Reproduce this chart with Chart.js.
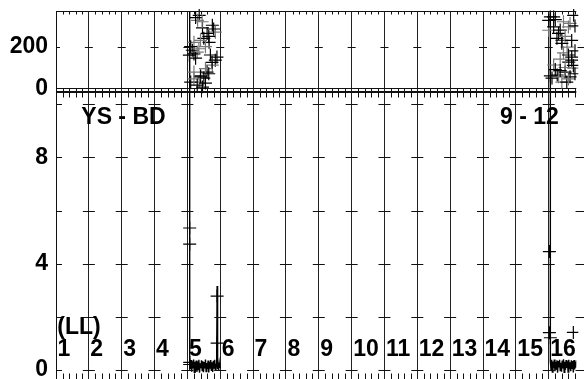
<!DOCTYPE html>
<html>
<head>
<meta charset="utf-8">
<script src="https://cdn.jsdelivr.net/npm/chart.js@4"></script>
<style>
  html, body { margin: 0; padding: 0; background: #fff; overflow: hidden; }
  #wrap { position: relative; width: 584px; height: 379px; overflow: hidden; }
  canvas { position: absolute; left: 0; top: 0; }
</style>
</head>
<body>
<div id="wrap">
  <canvas id="bottomChart" width="584" height="400"></canvas>
  <canvas id="topChart" width="584" height="400"></canvas>
</div>
<script>
// ---- data ----
const gridX = [1, 2, 3, 4, 5, 6, 7, 8, 9, 10, 11, 12, 13, 14, 15, 16];
const hourLabels = ['1', '2', '3', '4', '5', '6', '7', '8', '9', '10', '11', '12', '13', '14', '15', '16'];
const notes = ['YS - BD', '9 - 12', '(LL)'];

const topTicks = [0, 100, 200, 300];
const topTickLabels = ['0', '', '200', ''];
const bottomTicks = [0, 2, 4, 6, 8, 10];
const bottomTickLabels = ['0', '', '4', '', '8', ''];

// scatter bursts in the upper panel
const burstAX = [5.36, 5.31, 5.76, 5.60, 5.85, 5.50, 5.66, 5.20, 5.15, 5.06, 5.30, 5.25, 5.85, 5.76, 5.60, 5.50, 5.36, 5.10, 5.46, 5.20, 5.70, 5.46, 5.55, 5.40,
                 5.25, 5.45, 5.80, 5.65, 5.40, 5.10, 5.20, 5.35, 5.90, 5.75, 5.55, 5.65, 5.40, 5.20, 5.30, 5.55];
const burstAY = [351, 327, 303, 264, 270, 240, 221, 221, 183, 159, 174, 145, 135, 111, 78, 49, 30, 30, 6, 78, 160, 290, 200, 60,
                 340, 320, 285, 250, 230, 200, 165, 190, 150, 125, 95, 70, 55, 45, 15, 25];
const burstBX = [16.05, 16.00, 16.15, 16.30, 16.65, 16.76, 16.40, 16.56, 16.70, 16.61, 16.76, 16.26, 16.10, 16.40, 16.65, 16.50, 16.15, 16.00, 16.15, 16.60, 16.40, 16.70, 16.30, 16.55,
                 16.20, 16.45, 16.80, 16.35, 16.50, 16.25, 16.70, 16.45, 16.80, 16.60, 16.35, 16.75, 16.20, 16.50, 16.05, 16.35, 16.60, 16.80];
const burstBY = [343, 279, 295, 264, 312, 351, 231, 198, 150, 126, 97, 64, 49, 30, 55, 78, 112, 327, 343, 295, 216, 135, 55, 30,
                 330, 320, 300, 280, 250, 240, 230, 170, 180, 160, 140, 110, 90, 100, 60, 85, 45, 70];

// sweeps in the lower panel (first value runs off the top)
const sweep5X = [5.07, 5.07, 5.09, 5.11, 5.13, 5.15, 5.17, 5.19, 5.21, 5.23, 5.25, 5.27, 5.29, 5.31, 5.33, 5.35, 5.37, 5.39, 5.41, 5.43, 5.45, 5.47, 5.49, 5.51, 5.53, 5.55, 5.57, 5.59, 5.61, 5.63, 5.65, 5.67, 5.69, 5.71, 5.73, 5.75, 5.77, 5.79, 5.81, 5.83, 5.85, 5.87, 5.89, 5.905, 5.91, 5.93, 5.95, 5.97, 5.99];
const sweep5Y = [30, 0.25, 0.02, 0.36, -0.08, 0.30, 0.04, 0.38, -0.10, 0.26, 0.08, 0.34, -0.09, 0.30, 0.00, 0.37, -0.12, 0.24, 0.05, 0.35, -0.04, 0.31, -0.10, 0.28, 0.04, 0.38, -0.08, 0.25, 0.02, 0.34, -0.11, 0.29, 0.06, 0.36, -0.05, 0.27, -0.09, 0.33, 0.03, 0.37, -0.02, 0.22, 0.08, 3.15, 0.02, 0.30, -0.04, 0.25, 0.06];
const sweep16X = [16.05, 16.05, 16.07, 16.09, 16.11, 16.13, 16.15, 16.17, 16.19, 16.21, 16.23, 16.25, 16.27, 16.29, 16.31, 16.33, 16.35, 16.37, 16.39, 16.41, 16.43, 16.45, 16.47, 16.49, 16.51, 16.53, 16.55, 16.57, 16.59, 16.61, 16.63, 16.65, 16.67, 16.69, 16.71, 16.73, 16.75, 16.77, 16.79, 16.81, 16.83, 16.85];
const sweep16Y = [30, 0.30, 0.00, 0.37, -0.09, 0.30, 0.06, 0.38, -0.06, 0.28, 0.02, 0.35, -0.12, 0.32, 0.08, 0.37, -0.04, 0.26, -0.08, 0.34, 0.04, 0.39, -0.10, 0.29, -0.01, 0.36, 0.06, 0.31, -0.09, 0.37, 0.01, 0.27, -0.06, 0.35, 0.05, 0.32, -0.11, 0.36, 0.00, 0.30, 0.07, 0.34];
const markX = [5.07, 5.07, 5.07, 5.07, 5.905, 5.905, 16.02, 16.02, 16.05, 16.75];
const markY = [5.34, 4.73, 0.27, 0.19, 2.77, 1.00, 4.45, 1.39, 1.20, 1.40];

const FONT = '"Liberation Sans", Arial, Helvetica, sans-serif';
const INK = '#111';

function pts(xs, ys) {
  return xs.map((x, i) => ({ x: x, y: ys[i] }));
}

function xScale() {
  return {
    type: 'linear',
    min: 1,
    max: 16.84,
    afterBuildTicks: s => { s.ticks = gridX.map(v => ({ value: v })); },
    afterFit: s => { s.height = 0; s.paddingLeft = 0; s.paddingRight = 0; },
    ticks: { display: false },
    grid: { color: '#222', lineWidth: 1, drawTicks: false },
    border: { display: false }
  };
}

function yScale(min, max, ticks, labels, zeroLine) {
  return {
    type: 'linear',
    min: min,
    max: max,
    afterBuildTicks: s => { s.ticks = ticks.map(v => ({ value: v })); },
    afterFit: s => { s.width = 56; s.paddingTop = 0; s.paddingBottom = 0; },
    ticks: {
      padding: 8,
      color: '#000',
      font: { family: FONT, size: 23, weight: 'bold' },
      callback: (v, i) => labels[i] || ''
    },
    grid: {
      drawTicks: false,
      color: c => (zeroLine && c.tick && c.tick.value === 0) ? INK : 'rgba(0,0,0,0)'
    },
    border: { display: true, color: INK, width: 1 }
  };
}

// frame, minor ticks and grid crosses
function framePlugin(topLen, bottomLen, half) {
  return {
    id: 'frame',
    afterDatasetsDraw(chart) {
      const { ctx, chartArea: a, scales } = chart;
      const x = scales.x, y = scales.y;
      const top = Math.round(a.top) + 0.5, bot = Math.round(a.bottom) - 0.5;
      ctx.save();
      ctx.strokeStyle = INK;
      ctx.lineWidth = 1;
      ctx.beginPath();
      ctx.moveTo(a.left, top); ctx.lineTo(a.right, top);
      ctx.moveTo(a.left, bot); ctx.lineTo(a.right, bot);
      for (let i = 1; i <= 17; i++) {
        for (let k = 1; k < 5; k++) {
          const px = Math.round(x.getPixelForValue(i + k / 5)) + 0.5;
          if (px > a.right) continue;
          ctx.moveTo(px, top); ctx.lineTo(px, top + topLen);
          ctx.moveTo(px, bot); ctx.lineTo(px, bot - bottomLen);
        }
        const gx = x.getPixelForValue(i);
        y.ticks.forEach(t => {
          if (t.value === 0 && half < 5) return;
          const py = Math.round(y.getPixelForValue(t.value)) + 0.5;
          ctx.moveTo(i === 1 ? gx : gx - half, py);
          ctx.lineTo(gx + half, py);
        });
      }
      ctx.stroke();
      ctx.restore();
    }
  };
}

const textPlugin = {
  id: 'texts',
  afterDatasetsDraw(chart) {
    const { ctx, scales } = chart;
    const x = scales.x, y = scales.y;
    ctx.save();
    ctx.fillStyle = '#000';
    ctx.font = 'bold 23px ' + FONT;
    ctx.textAlign = 'left';
    ctx.textBaseline = 'middle';
    hourLabels.forEach((t, i) => {
      ctx.fillText(t, x.getPixelForValue(gridX[i]) + 1.5, y.getPixelForValue(0.75));
    });
    ctx.fillText(notes[0], x.getPixelForValue(1.77), y.getPixelForValue(9.5));
    ctx.fillText(notes[1], x.getPixelForValue(14.52), y.getPixelForValue(9.5));
    ctx.fillText(notes[2], x.getPixelForValue(1.04), y.getPixelForValue(1.58));
    ctx.restore();
  }
};

const common = {
  responsive: false,
  animation: false,
  devicePixelRatio: 1,
  events: [],
  plugins: { legend: { display: false }, tooltip: { enabled: false } }
};

// black and grey crosses mixed, like the printed original
const crossTone = c => (c.dataIndex % 3 === 1 ? '#777' : '#000');
const crossStyle = {
  type: 'scatter',
  pointStyle: 'cross',
  pointRadius: 6.5,
  borderColor: crossTone,
  backgroundColor: crossTone,
  borderWidth: 1.2,
  clip: 2
};

// upper panel
new Chart(document.getElementById('topChart'), {
  type: 'scatter',
  data: {
    datasets: [
      Object.assign({ data: pts(burstAX, burstAY) }, crossStyle),
      Object.assign({ data: pts(burstBX, burstBY) }, crossStyle)
    ]
  },
  options: Object.assign({}, common, {
    layout: { padding: { top: 11, bottom: 400 - 91.5, left: 0, right: 0 } },
    scales: {
      x: xScale(),
      y: yScale(-15.4, 371.6, topTicks, topTickLabels, true)
    }
  }),
  plugins: [framePlugin(3, 3, 4)]
});

// lower panel
const sweepStyle = {
  type: 'line',
  borderColor: '#000',
  borderWidth: 1.4,
  pointRadius: 0,
  tension: 0,
  fill: false,
  clip: { left: 0, top: 80, right: 0, bottom: 0 }
};

new Chart(document.getElementById('bottomChart'), {
  type: 'scatter',
  data: {
    datasets: [
      Object.assign({ data: pts(sweep5X, sweep5Y) }, sweepStyle),
      Object.assign({ data: pts(sweep16X, sweep16Y) }, sweepStyle),
      Object.assign({ data: pts(markX, markY) }, crossStyle, { borderColor: '#000', backgroundColor: '#000' })
    ]
  },
  options: Object.assign({}, common, {
    layout: { padding: { top: 91.5, bottom: 18, left: 0, right: 0 } },
    scales: {
      x: xScale(),
      y: yScale(-0.47, 10.49, bottomTicks, bottomTickLabels, false)
    }
  }),
  plugins: [framePlugin(5, 8, 6), textPlugin]
});
</script>
</body>
</html>
